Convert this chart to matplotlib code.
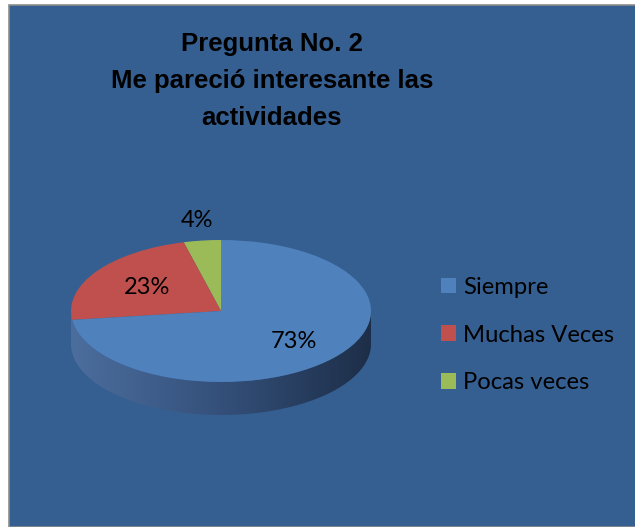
# Gráfico de pastel 3D - Pregunta No. 2

import numpy as np
import matplotlib
matplotlib.use('Agg')
import matplotlib.pyplot as plt
from matplotlib.patches import Rectangle, Polygon
from matplotlib.colors import LinearSegmentedColormap

# datos
categorias = ['Siempre', 'Muchas Veces', 'Pocas veces']
porcentajes = [73, 23, 4]
colores = ['#4F81BD', '#C0504D', '#9BBB59']
titulo = 'Pregunta No. 2\nMe pareció interesante las\nactividades'

W, H = 635, 527
fig = plt.figure(figsize=(W / 100, H / 100), dpi=100)
fig.patch.set_facecolor('white')

# fondo azul del gráfico
fondo = Rectangle((9 / W, 0), 1, 1 - 5 / H, transform=fig.transFigure,
                  facecolor='#365F91', edgecolor='#8C8C8C', linewidth=1.2,
                  zorder=-10)
fig.patches.append(fondo)

# ejes del pastel (elipse de 300 x 142 px, grosor 33 px)
prof = 33 / 71
ax = fig.add_axes([71 / W, (H - 415) / H, 300 / W, 175 / H])

# orden de dibujo: Pocas veces, Muchas Veces, Siempre (desde arriba, antihorario)
orden = [2, 1, 0]
wedges, _ = ax.pie([porcentajes[i] for i in orden], colors=[colores[i] for i in orden],
                   startangle=90, counterclock=True, radius=1,
                   wedgeprops={'linewidth': 0})
for w in wedges:
    w.set_zorder(3)

# lado del cilindro con degradado
t = np.linspace(np.pi, 2 * np.pi, 200)
arriba = np.column_stack([np.cos(t), np.sin(t)])
abajo = np.column_stack([np.cos(t[::-1]), np.sin(t[::-1]) - prof])
lado = Polygon(np.vstack([arriba, abajo]), closed=True, facecolor='none',
               edgecolor='none', transform=ax.transData)
ax.add_patch(lado)
cmap = LinearSegmentedColormap.from_list('lado', ['#4C6E9E', '#34507A', '#1D2E48'])
grad = np.linspace(0, 1, 256).reshape(1, -1)
img = ax.imshow(grad, cmap=cmap, extent=(-1, 1, -1 - prof, 0), aspect='auto', zorder=1)
img.set_clip_path(lado)

ax.set_aspect('auto')
ax.set_xlim(-1, 1)
ax.set_ylim(-1 - prof, 1)
ax.axis('off')

# etiquetas de porcentaje
dist = {0: 0.65, 1: 0.6, 2: 1.29}
for w, i in zip(wedges, orden):
    ang = np.deg2rad((w.theta1 + w.theta2) / 2)
    r = dist[i]
    ax.text(r * np.cos(ang), r * np.sin(ang), f'{porcentajes[i]}%',
            ha='center', va='center', fontsize=17, family='Lato',
            color='black', zorder=5)

# título
fig.text(272 / W, 1 - 81 / H, titulo, ha='center', va='center',
         multialignment='center', fontsize=18.5, fontweight='bold',
         family='Liberation Sans', color='black', linespacing=1.68)

# leyenda
hdl = [wedges[orden.index(i)] for i in range(len(categorias))]
leg = fig.legend(hdl, categorias, loc='center left',
                 bbox_to_anchor=(441 / W, 1 - 335 / H), frameon=False,
                 prop={'family': 'Lato', 'size': 17.2},
                 handlelength=0.62, handleheight=0.62, handletextpad=0.3,
                 labelspacing=1.12, borderpad=0, borderaxespad=0)

plt.savefig('out.png', dpi=100, facecolor=fig.get_facecolor())
